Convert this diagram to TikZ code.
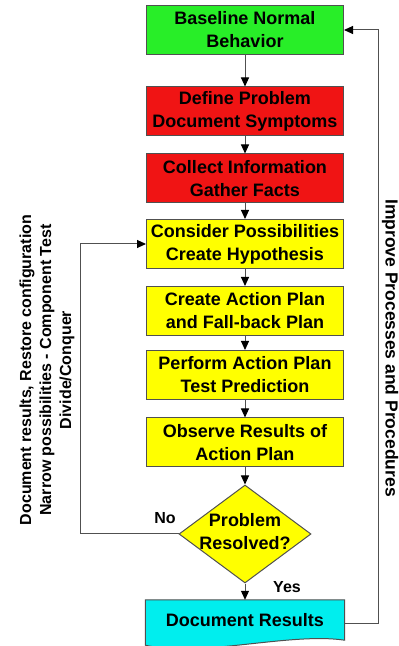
\documentclass[tikz,border=0pt]{standalone}
\usepackage{fontspec}
\setmainfont{Liberation Sans}
\usetikzlibrary{shapes.geometric,arrows.meta,backgrounds}
\definecolor{boxgreen}{RGB}{40,238,40}
\definecolor{boxred}{RGB}{240,20,20}
\definecolor{boxyellow}{RGB}{255,255,0}
\definecolor{boxcyan}{RGB}{0,238,238}
\definecolor{edgegray}{RGB}{80,80,80}

\begin{document}
\begin{tikzpicture}
        [%%%%%%%%%%%%%%%%%%%%%%%%%%%%%%
        x=1pt,y=1pt,
        stepbox/.style={draw=edgegray, line width=1pt, inner sep=0pt,
          minimum width=197pt, minimum height=49pt, align=center,
          font=\fontsize{18}{23}\selectfont\bfseries},
        decision/.style={diamond, draw=edgegray, fill=boxyellow,
          line width=1pt, inner sep=0pt, minimum width=132pt, minimum height=98pt},
        txt/.style={align=center, inner sep=0pt,
          font=\fontsize{18}{23}\selectfont\bfseries},
        sidetxt/.style={align=center, inner sep=0pt,
          font=\fontsize{16}{20}\selectfont\bfseries},
        flow/.style={draw=edgegray, line width=1pt,
          -{Triangle[length=9pt,width=8pt,color=black]}},
        ]%%%%%%%%%%%%%%%%%%%%%%%%%%%%%%
        \useasboundingbox (0,0) rectangle (399,646);
        \foreach \name/\col/\ypos/\txt in {
            base/boxgreen/616/{Baseline Normal\\Behavior},
            define/boxred/534.5/{Define Problem\\Document Symptoms},
            collect/boxred/467.5/{Collect Information\\Gather Facts},
            consider/boxyellow/402/{Consider Possibilities\\Create Hypothesis},
            action/boxyellow/335/{Create Action Plan\\and Fall-back Plan},
            perform/boxyellow/271/{Perform Action Plan\\Test Prediction},
            observe/boxyellow/203.5/{Observe Results of\\Action Plan}}{
          % Process boxes
          \node[stepbox, fill=\col] (\name) at (245,\ypos) {\txt};
        }
        \node[decision] (check) at (245,112) {};
        \node[txt] (checktxt) at (245,114) {Problem\\Resolved?};
        \node[txt, minimum width=199pt, minimum height=40pt] (docres) at (245,26) {Document Results};
        \begin{scope}[on background layer]
          \draw[draw=edgegray, line width=1pt, fill=boxcyan]
            (docres.north west) -- (docres.north east) -- (docres.south east)
            .. controls (290,14) and (200,-12) .. ([yshift=-5pt]docres.south west) -- cycle;
        \end{scope}
        % Arrows down the chain
        \foreach \a/\b in {base/define, define/collect, collect/consider,
            consider/action, action/perform, perform/observe, observe/check, check/docres}{
          \draw[flow] (\a) -- (\b);
        }
        % Feedback loops
        \coordinate (leftrail) at (80,0);
        \coordinate (rightrail) at (378,0);
        \draw[flow] (check.west) -- (check.west -| leftrail) |- (consider.west);
        \draw[flow] ([yshift=-4pt]docres.east) -- ([yshift=-4pt]docres.east -| rightrail) |- (base.east);
        % Text
        \node[sidetxt] (nolbl) at (165,128) {No};
        \node[sidetxt] (yeslbl) at (287,59) {Yes};
        \node[sidetxt, rotate=90] (loopnote) at (47,276)
          {Document results, Restore configuration\\Narrow possibilities - Component Test\\Divide/Conquer};
        \node[txt, rotate=-90, anchor=north, font=\fontsize{17.5}{22}\selectfont\bfseries]
          (improve) at (398.5,298) {Improve Processes and Procedures};
      \end{tikzpicture}
\end{document}
